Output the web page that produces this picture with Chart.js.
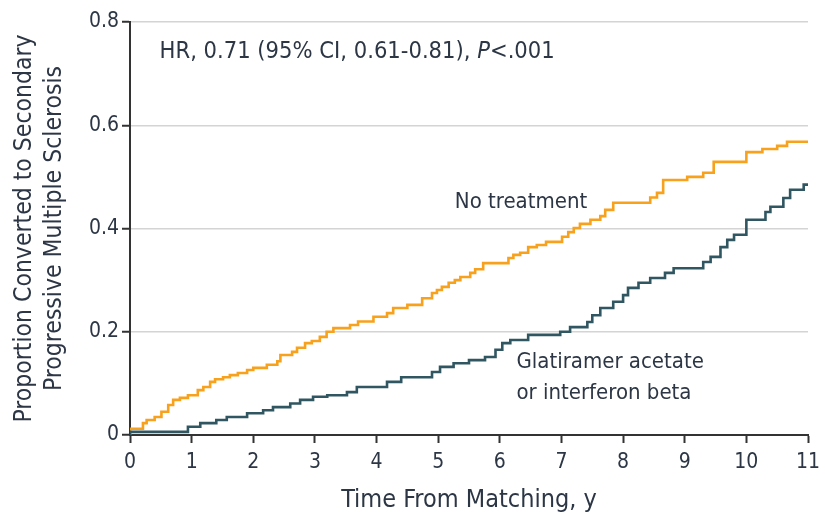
<!DOCTYPE html>
<html><head><meta charset="utf-8">
<script src="https://cdn.jsdelivr.net/npm/chart.js@4/dist/chart.umd.min.js"></script>
<style>html,body{margin:0;padding:0;background:#fff}#wrap{width:825px;height:515px}</style>
</head><body><div id="wrap"><canvas id="c" width="825" height="515"></canvas></div>
<script>
const xTicks = [0,1,2,3,4,5,6,7,8,9,10,11];
const yTicks = [0,0.2,0.4,0.6,0.8];
const noTxTimes = [0,0.21,0.27,0.4,0.51,0.62,0.7,0.81,0.94,1.1,1.19,1.3,1.38,1.51,1.62,1.75,1.9,2.0,2.22,2.39,2.44,2.63,2.71,2.84,2.95,3.08,3.19,3.3,3.57,3.7,3.95,4.17,4.27,4.5,4.74,4.9,4.98,5.06,5.17,5.27,5.36,5.52,5.6,5.73,6.14,6.22,6.33,6.46,6.6,6.75,7.01,7.11,7.2,7.3,7.47,7.63,7.71,7.84,8.44,8.55,8.65,9.04,9.3,9.47,10.0,10.26,10.5,10.66,10.97,11.0];
const noTxValues = [0,0.012,0.023,0.029,0.035,0.045,0.058,0.068,0.072,0.077,0.087,0.093,0.103,0.108,0.112,0.116,0.12,0.126,0.13,0.136,0.143,0.155,0.161,0.169,0.178,0.182,0.19,0.2,0.207,0.213,0.22,0.229,0.236,0.246,0.252,0.265,0.275,0.281,0.287,0.295,0.3,0.306,0.314,0.321,0.333,0.343,0.349,0.353,0.364,0.368,0.374,0.384,0.393,0.401,0.409,0.417,0.424,0.436,0.45,0.46,0.469,0.494,0.5,0.508,0.529,0.548,0.554,0.56,0.568,0.568];
const dmtTimes = [0,0.94,1.14,1.4,1.57,1.9,2.16,2.32,2.6,2.76,2.97,3.2,3.52,3.68,4.17,4.4,4.9,5.03,5.25,5.5,5.76,5.93,6.04,6.17,6.46,6.98,7.14,7.42,7.5,7.63,7.84,8.0,8.08,8.25,8.44,8.68,8.82,9.3,9.42,9.58,9.69,9.8,10.0,10.31,10.39,10.6,10.71,10.93,10.98,11.0];
const dmtValues = [0,0.006,0.016,0.023,0.029,0.035,0.042,0.048,0.054,0.061,0.068,0.074,0.077,0.083,0.093,0.103,0.112,0.122,0.132,0.139,0.145,0.151,0.165,0.178,0.184,0.194,0.2,0.209,0.219,0.232,0.246,0.258,0.271,0.285,0.295,0.304,0.314,0.323,0.335,0.345,0.364,0.378,0.388,0.417,0.432,0.442,0.459,0.475,0.485,0.485];
const noTxLabel = "No treatment";
const dmtLabel = ["Glatiramer acetate","or interferon beta"];
const hrText = ["HR, 0.71 (95% CI, 0.61-0.81), ","P","<.001"];
const xTitle = "Time From Matching, y";
const yTitle = ["Proportion Converted to Secondary","Progressive Multiple Sclerosis"];

const FONT = '"DejaVu Sans Condensed", "Liberation Sans", sans-serif';
const TXT = '#2c3645';
const pts = (t,v)=>t.map((x,i)=>({x:x,y:v[i]}));

const annot = {
  id:'annot',
  afterDatasetsDraw(chart){
    const ctx=chart.ctx, xs=chart.scales.x, ys=chart.scales.y;
    ctx.save();
    ctx.fillStyle=TXT; ctx.textBaseline='middle'; ctx.textAlign='left';
    ctx.font='23.5px '+FONT;
    let x=xs.getPixelForValue(0.48), y=ys.getPixelForValue(0.742);
    ctx.fillText(hrText[0],x,y); x+=ctx.measureText(hrText[0]).width;
    ctx.font='italic 23.5px '+FONT; ctx.fillText(hrText[1],x,y); x+=ctx.measureText(hrText[1]).width;
    ctx.font='23.5px '+FONT; ctx.fillText(hrText[2],x,y);
    ctx.font='22px '+FONT;
    ctx.fillText(noTxLabel, xs.getPixelForValue(5.27), ys.getPixelForValue(0.45));
    ctx.fillText(dmtLabel[0], xs.getPixelForValue(6.27), ys.getPixelForValue(0.141));
    ctx.fillText(dmtLabel[1], xs.getPixelForValue(6.27), ys.getPixelForValue(0.081));
    ctx.restore();
  }
};

new Chart(document.getElementById('c'),{
  type:'line',
  data:{datasets:[
    {label:'dmt',data:pts(dmtTimes,dmtValues),borderColor:'#2f5661',borderWidth:2.6,stepped:'after',pointRadius:0,fill:false,order:0},
    {label:'none',data:pts(noTxTimes,noTxValues),borderColor:'#f7a11c',borderWidth:2.6,stepped:'after',pointRadius:0,fill:false,order:1}
  ]},
  options:{
    responsive:false,animation:false,
    layout:{padding:{left:0,right:17,top:22,bottom:0}},
    plugins:{legend:{display:false},tooltip:{enabled:false}},
    scales:{
      x:{type:'linear',min:0,max:11,
        afterBuildTicks:s=>{s.ticks=xTicks.map(v=>({value:v}));},
        afterFit:s=>{s.height=80;s.paddingRight=0;s.paddingLeft=0;},
        grid:{display:true,drawOnChartArea:false,drawTicks:true,tickLength:8,tickColor:'#333',tickWidth:2},
        border:{display:true,color:'#333',width:2},
        ticks:{color:TXT,font:{family:FONT,size:21},padding:7,maxRotation:0,autoSkip:false},
        title:{display:true,text:xTitle,color:TXT,font:{family:FONT,size:25},padding:{top:4,bottom:0}}
      },
      y:{type:'linear',min:0,max:0.8,
        afterBuildTicks:s=>{s.ticks=yTicks.map(v=>({value:v}));},
        afterFit:s=>{s.width=130;s.paddingTop=0;s.paddingBottom=0;},
        grid:{display:true,drawOnChartArea:true,color:'#d4d4d4',lineWidth:1.5,drawTicks:true,tickLength:8,tickColor:'#333',tickWidth:2},
        border:{display:true,color:'#333',width:2},
        ticks:{color:TXT,font:{family:FONT,size:21},padding:3,callback:v=>String(v)},
        title:{display:true,text:yTitle,color:TXT,font:{family:FONT,size:24.5,lineHeight:1.25},padding:{top:9,bottom:6}}
      }
    }
  },
  plugins:[annot]
});
</script></body></html>
